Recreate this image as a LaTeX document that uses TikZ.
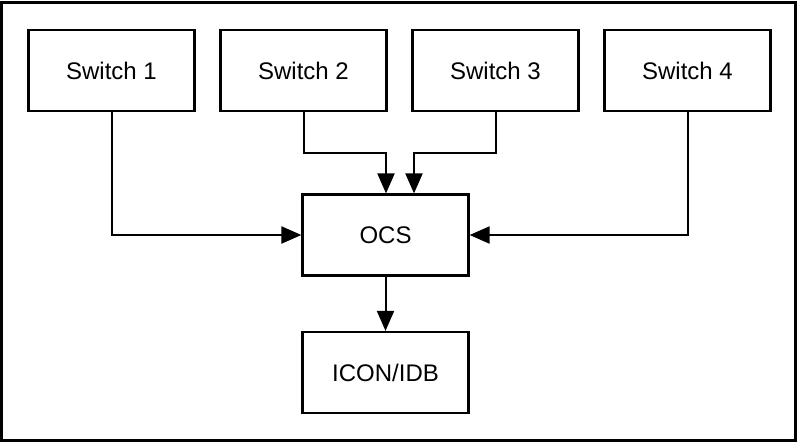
\documentclass[tikz,border=0pt]{standalone}
\usepackage{fontspec}
\setmainfont{Liberation Sans}
\usetikzlibrary{arrows.meta}
\begin{document}
\begin{tikzpicture}[x=1pt,y=-1pt,
  box/.style={draw=black, line width=2.2pt, fill=white, minimum width=166pt, minimum height=81pt, inner sep=0pt, font=\fontsize{24}{28}\selectfont},
  conn/.style={draw=black, line width=2pt, -{Triangle[length=20pt,width=17pt]}}]
\useasboundingbox (0,0) rectangle (800,445);
\draw[line width=3pt] (1.5,2) rectangle (795.5,440);
\node[box] (s1) at (111.5,70.5) {Switch 1};
\node[box] (s2) at (303.5,70.5) {Switch 2};
\node[box] (s3) at (495.5,70.5) {Switch 3};
\node[box] (s4) at (687.5,70.5) {Switch 4};
\node[box] (ocs) at (385.5,235) {OCS};
\node[box] (icon) at (385.5,372.5) {ICON/IDB};
\draw[conn] (s1.south) |- (ocs.west);
\draw[conn] (s4.south) |- (ocs.east);
\draw[conn] (s2.south) -- ++(0,41) -| ([xshift=0.5pt]ocs.north);
\draw[conn] (s3.south) -- ++(0,41) -| ([xshift=28.5pt]ocs.north);
\draw[conn] (ocs.south) -- (icon.north);
\end{tikzpicture}
\end{document}
